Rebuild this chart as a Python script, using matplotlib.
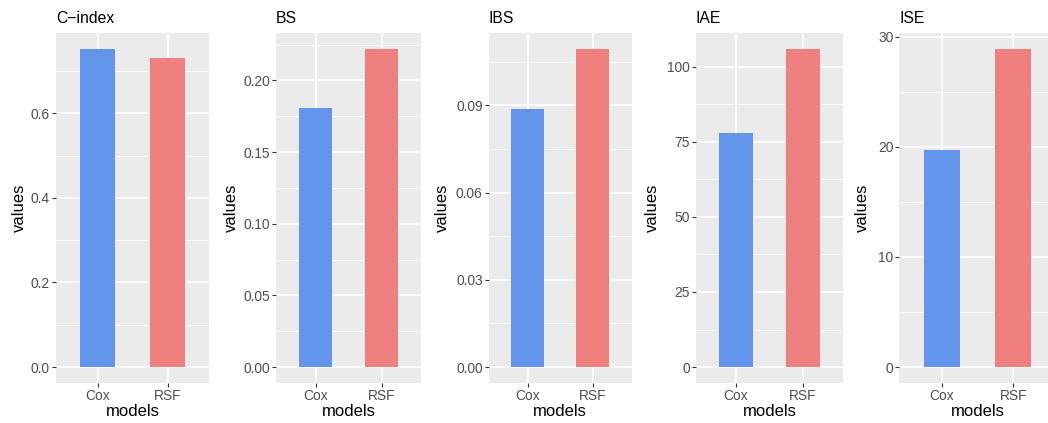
import matplotlib
matplotlib.use("Agg")
import matplotlib.pyplot as plt
import numpy as np

plt.rcParams['font.family'] = ['Liberation Sans', 'DejaVu Sans']

# ---- data ----
metrics = ["C\u2212index", "BS", "IBS", "IAE", "ISE"]
models = ["Cox", "RSF"]
cox_values = [0.752, 0.181, 0.0887, 77.8, 19.7]
rsf_values = [0.731, 0.222, 0.1094, 105.9, 28.9]
yticks = [
    [0.0, 0.2, 0.4, 0.6],
    [0.00, 0.05, 0.10, 0.15, 0.20],
    [0.00, 0.03, 0.06, 0.09],
    [0, 25, 50, 75, 100],
    [0, 10, 20, 30],
]
ytick_labels = [
    ["0.0", "0.2", "0.4", "0.6"],
    ["0.00", "0.05", "0.10", "0.15", "0.20"],
    ["0.00", "0.03", "0.06", "0.09"],
    ["0", "25", "50", "75", "100"],
    ["0", "10", "20", "30"],
]
bar_colors = ["#6495ED", "#F08080"]

# ---- layout (pixels) ----
W, H = 1048, 423
dpi = 100
panel_x = [(55.8, 209.4), (276.2, 421.0), (488.5, 631.5), (695.8, 843.2), (899.3, 1056.0)]
ylabel_x = [27.0, 238.5, 449.5, 659.5, 869.5]   # right side (incl. descent) of rotated y title
panel_top, panel_bottom = 33.0, 383.0

fig = plt.figure(figsize=(W / dpi, H / dpi), dpi=dpi)
fig.patch.set_facecolor("white")

for i, metric in enumerate(metrics):
    l, r = panel_x[i]
    ax = fig.add_axes([l / W, (H - panel_bottom) / H, (r - l) / W, (panel_bottom - panel_top) / H])
    ax.set_facecolor("#EBEBEB")
    vals = [cox_values[i], rsf_values[i]]
    vmax = max(vals)
    ax.set_ylim(-0.05 * vmax, 1.05 * vmax)
    ax.set_xlim(-0.6, 1.6)
    xs = np.arange(len(models))

    # grid
    ticks = yticks[i]
    step = ticks[1] - ticks[0]
    minors = [t + step / 2 for t in [ticks[0] - step] + ticks]
    lo, hi = ax.get_ylim()
    for m in minors:
        if lo <= m <= hi:
            ax.axhline(m, color="white", lw=0.55, zorder=0.5)
    for t in ticks:
        ax.axhline(t, color="white", lw=1.1, zorder=0.6)
    for x in xs:
        ax.axvline(x, color="white", lw=1.1, zorder=0.6)

    ax.bar(xs, vals, width=0.5, color=bar_colors, zorder=2)

    ax.set_xticks(xs)
    ax.set_xticklabels(models)
    ax.set_yticks(ticks)
    ax.set_yticklabels(ytick_labels[i])
    for s in ax.spines.values():
        s.set_visible(False)
    ax.tick_params(axis="both", colors="#333333", length=2.7, width=0.8,
                   labelcolor="#4D4D4D", labelsize=9.9, pad=1.5)
    ax.set_xlabel("models", fontsize=12, color="black", labelpad=1)
    ax.set_ylabel("values", fontsize=12, color="black")
    ax.yaxis.set_label_coords((ylabel_x[i] - l) / (r - l), 0.5)
    ax.set_title(metric, loc="left", fontsize=11.3, color="black", pad=7.4)

fig.savefig("out.png", dpi=dpi, facecolor="white")
